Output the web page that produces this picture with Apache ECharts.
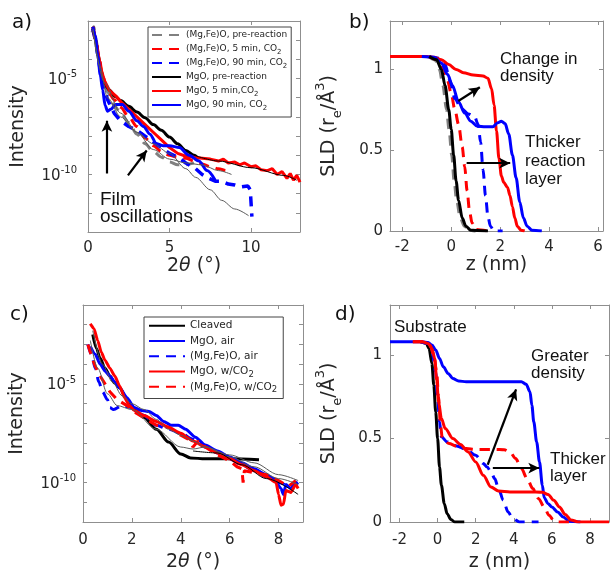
<!DOCTYPE html>
<html>
<head>
<meta charset="utf-8">
<script src="https://cdn.jsdelivr.net/npm/echarts@6/dist/echarts.min.js"></script>
<style>
html, body { margin: 0; padding: 0; background: #fff; }
#chart { width: 611px; height: 573px; }
</style>
</head>
<body>
<div id="chart"></div>
<script>
// ---------- a) reflectivity, [2θ (deg), log10(intensity)] ----------
const aMgFeOPre = [[0.25,-2.6],[0.35,-2.3],[0.5,-3.0],[0.7,-4.1],[0.9,-4.9],[1.2,-5.7],[1.6,-6.4],[2.0,-6.8],[2.5,-7.3],[3.0,-7.9],[3.5,-8.4],[4.0,-8.8],[4.5,-9.1],[5.0,-9.35],[5.5,-9.5],[6.0,-9.5],[6.5,-9.4]];
const aMgFeO5 = [[0.3,-2.4],[0.5,-3.1],[0.7,-4.0],[0.9,-4.9],[1.2,-5.6],[1.6,-6.1],[2.0,-6.5],[2.5,-7.0],[3.0,-7.5],[3.5,-8.1],[4.0,-8.5],[4.5,-8.8],[5.0,-9.0],[5.5,-9.1],[6.0,-9.15],[6.5,-9.3],[7.0,-9.45],[7.5,-9.6],[8.0,-9.7],[8.5,-9.8],[8.8,-9.9]];
const aMgFeO90 = [[0.3,-2.4],[0.5,-3.2],[0.7,-4.3],[0.9,-5.3],[1.2,-6.1],[1.6,-6.8],[2.0,-7.2],[2.5,-7.5],[3.0,-7.7],[3.5,-8.0],[4.0,-8.3],[4.5,-8.6],[5.0,-8.9],[5.5,-9.1],[6.0,-9.4],[6.6,-9.7],[7.0,-10.0],[7.4,-10.2],[7.8,-10.35],[8.2,-10.35],[8.6,-10.5],[9.0,-10.55],[9.4,-10.65],[9.8,-10.6],[9.95,-10.8],[10.0,-11.5],[10.05,-12.2]];
const aMgOPre = [[0.3,-2.3],[0.45,-2.9],[0.6,-3.7],[0.8,-4.6],[1.0,-5.2],[1.3,-5.6],[1.7,-5.95],[2.0,-6.15],[2.5,-6.45],[3.0,-6.75],[3.5,-7.05],[4.0,-7.4],[4.5,-7.7],[5.0,-8.05],[5.5,-8.4],[6.0,-8.75],[6.5,-9.0],[6.8,-9.2]];
const aMgO5 = [[0.3,-2.3],[0.45,-2.9],[0.6,-3.6],[0.8,-4.5],[1.0,-5.1],[1.3,-5.6],[1.7,-5.9],[2.0,-6.2],[2.5,-6.6],[3.0,-7.0],[3.5,-7.4],[4.0,-7.8],[4.5,-8.2],[5.0,-8.6],[5.5,-8.9],[6.0,-9.05],[6.5,-9.1],[7.0,-9.15],[7.5,-9.2],[8.0,-9.3],[8.3,-9.2],[8.6,-9.4],[9.0,-9.35],[9.3,-9.5],[9.6,-9.4],[10.0,-9.6],[10.3,-9.55],[10.6,-9.75],[11.0,-9.8],[11.3,-9.7],[11.6,-10.0],[11.9,-9.85],[12.2,-10.2],[12.4,-9.95],[12.6,-10.3],[12.8,-10.05],[13.0,-10.4]];
const aMgO90 = [[0.3,-2.3],[0.45,-2.8],[0.6,-3.8],[0.75,-4.8],[0.9,-5.6],[1.05,-6.4],[1.2,-6.7],[1.4,-6.6],[1.7,-6.35],[2.1,-6.35],[2.5,-6.7],[3.0,-7.2],[3.4,-7.5],[3.8,-7.9],[4.2,-8.4],[4.6,-8.5],[5.0,-8.5],[5.6,-8.6],[6.2,-9.0],[6.8,-9.3],[7.3,-9.8],[7.8,-10.3]];
// model fits (thin lines)
const aFitMgFeO90 = [[0.3,-2.4],[0.7,-4.3],[1.2,-6.0],[2.0,-7.0],[3.0,-7.8],[4.0,-8.4],[5.0,-8.9],[6.0,-9.7],[6.6,-10.15],[7.5,-10.8],[8.2,-11.35],[9.0,-11.8],[9.85,-12.15]];
const aFitMgO5 = [[6.5,-9.0],[8.0,-9.3],[10.0,-9.65],[12.0,-10.05],[12.8,-10.3]];
const aFitMgFeOPre = [[0.3,-2.5],[1.0,-5.2],[2.0,-6.8],[3.0,-7.8],[4.0,-8.7],[5.0,-9.2],[6.0,-9.4],[7.0,-9.5],[8.0,-9.8],[8.8,-10.0]];
const aArrows = [[[1.16,-9.95],[1.16,-7.2]], [[2.45,-10.05],[3.6,-8.75]]];

// ---------- b) SLD profiles, [z (nm), SLD] ----------
const bMgFeOPre = [[-0.9,1.08],[-0.65,1.06],[-0.47,1.0],[-0.33,0.9],[-0.18,0.75],[-0.08,0.63],[0.03,0.47],[0.13,0.31],[0.23,0.19],[0.38,0.08],[0.55,0.03],[0.75,0.005],[1.0,0.0]];
const bMgFeO5 = [[-0.9,1.08],[-0.5,1.06],[-0.3,1.0],[-0.15,0.93],[0.0,0.85],[0.15,0.75],[0.3,0.66],[0.45,0.52],[0.55,0.4],[0.65,0.25],[0.75,0.12],[0.85,0.05],[1.0,0.01],[1.5,0.0]];
const bMgFeO90 = [[-0.9,1.08],[-0.5,1.07],[-0.25,1.03],[-0.05,0.93],[0.15,0.82],[0.4,0.76],[0.7,0.725],[0.95,0.71],[1.1,0.66],[1.2,0.55],[1.3,0.38],[1.4,0.22],[1.5,0.09],[1.6,0.03],[1.75,0.0],[2.1,0.0]];
const bMgOPre = [[-0.9,1.08],[-0.6,1.06],[-0.4,1.0],[-0.25,0.9],[-0.1,0.75],[0.0,0.63],[0.1,0.47],[0.2,0.31],[0.3,0.19],[0.45,0.08],[0.6,0.03],[0.8,0.005],[1.5,0.0]];
const bMgO5 = [[-2.5,1.08],[-1.0,1.08],[-0.7,1.075],[-0.4,1.06],[-0.1,1.03],[0.2,1.0],[0.5,0.98],[0.9,0.965],[1.3,0.96],[1.5,0.945],[1.65,0.88],[1.75,0.78],[1.85,0.62],[1.95,0.45],[2.05,0.34],[2.15,0.3],[2.3,0.27],[2.4,0.22],[2.5,0.15],[2.6,0.08],[2.7,0.03],[2.85,0.005],[3.0,0.0]];
const bMgO90 = [[-1.2,1.08],[-0.7,1.075],[-0.4,1.04],[-0.15,0.97],[0.05,0.9],[0.3,0.8],[0.55,0.73],[0.8,0.68],[1.05,0.65],[1.4,0.645],[1.7,0.645],[1.9,0.67],[2.05,0.68],[2.2,0.665],[2.35,0.6],[2.5,0.47],[2.65,0.33],[2.8,0.18],[2.95,0.08],[3.1,0.03],[3.3,0.005],[3.7,0.0]];
const bArrows = [[[0.29,0.805],[1.17,0.89]], [[0.63,0.42],[2.41,0.42]]];

// ---------- c) reflectivity, [2θ (deg), log10(intensity)] ----------
const cCleaved = [[0.4,-2.5],[0.55,-3.2],[0.7,-3.7],[0.9,-4.2],[1.1,-4.6],[1.3,-4.95],[1.5,-5.2],[1.8,-5.8],[2.1,-6.3],[2.5,-6.7],[3.0,-7.3],[3.5,-7.95],[4.0,-8.55],[4.4,-8.75],[5.0,-8.8],[6.0,-8.8],[7.2,-8.85]];
const cMgOAir = [[0.3,-3.1],[0.5,-3.5],[0.7,-4.0],[0.9,-4.35],[1.1,-4.6],[1.3,-4.9],[1.5,-5.2],[1.8,-5.7],[2.1,-6.2],[2.4,-6.35],[2.7,-6.4],[3.0,-6.6],[3.3,-6.9],[3.6,-7.1],[3.9,-7.1],[4.2,-7.3],[4.6,-7.7],[5.0,-8.1],[5.5,-8.4],[6.0,-8.7],[6.5,-9.0],[7.0,-9.3],[7.5,-9.6],[7.8,-9.8],[8.1,-10.3],[8.2,-10.6],[8.3,-10.1],[8.5,-10.3],[8.7,-9.9]];
const cMgFeOAir = [[0.2,-3.0],[0.35,-3.5],[0.5,-4.2],[0.65,-4.9],[0.8,-5.4],[1.0,-5.8],[1.1,-6.2],[1.25,-6.3],[1.6,-6.1],[2.0,-6.2],[2.5,-6.6],[3.0,-7.1],[3.5,-7.3],[4.0,-7.5],[4.5,-7.8],[5.0,-8.2],[5.5,-8.5],[6.0,-8.8],[6.5,-9.1],[7.0,-9.4],[7.5,-9.7],[8.0,-10.0],[8.5,-10.2],[8.8,-10.0]];
const cMgOCO2 = [[0.3,-1.95],[0.45,-2.2],[0.6,-2.8],[0.75,-3.4],[0.9,-3.8],[1.1,-4.2],[1.3,-4.6],[1.5,-5.1],[1.7,-5.7],[1.9,-6.1],[2.1,-6.35],[2.5,-6.6],[3.0,-6.9],[3.5,-7.2],[4.0,-7.5],[4.5,-7.9],[5.0,-8.2],[5.5,-8.5],[6.0,-8.8],[6.5,-9.1],[7.0,-9.4],[7.5,-9.7],[7.9,-10.0],[8.0,-10.6],[8.1,-11.15],[8.2,-11.1],[8.3,-10.4],[8.5,-10.5],[8.7,-10.1],[8.8,-10.3]];
const cMgFeOCO2 = [[0.2,-3.0],[0.35,-3.6],[0.5,-4.1],[0.7,-4.6],[0.9,-5.0],[1.1,-5.4],[1.4,-5.8],[1.8,-6.1],[2.2,-6.5],[2.6,-6.8],[3.0,-7.1],[3.5,-7.2],[4.0,-7.6],[4.3,-7.8],[4.5,-8.2],[4.7,-7.9],[5.0,-8.2],[5.5,-8.6],[6.0,-8.9],[6.3,-9.2],[6.5,-9.3],[6.55,-10.0],[6.6,-9.4],[7.0,-9.5],[7.5,-9.6],[8.0,-9.9],[8.4,-10.2],[8.7,-9.9]];
const cFitA = [[0.4,-2.3],[0.8,-4.0],[1.2,-4.9],[1.6,-5.6],[2.0,-6.0],[2.5,-6.3],[3.0,-6.8],[3.5,-7.3],[4.0,-7.6],[4.5,-7.9],[5.0,-8.2],[6.0,-8.7],[7.0,-9.2],[8.0,-9.8],[8.8,-10.1]];
const cFitB = [[4.5,-8.4],[5.5,-8.5],[6.5,-9.1],[7.5,-9.8],[8.8,-10.6]];
const cFitC = [[0.3,-2.8],[0.6,-4.2],[1.0,-5.5],[1.4,-6.1],[2.0,-6.3],[3.0,-7.3],[4.0,-8.2],[4.5,-8.3],[5.0,-8.2],[6.0,-8.6],[7.0,-9.0],[8.0,-9.6],[8.8,-9.9]];

// ---------- d) SLD profiles, [z (nm), SLD] ----------
const dCleaved = [[-0.9,1.08],[-0.6,1.07],[-0.45,1.04],[-0.3,0.95],[-0.2,0.82],[-0.1,0.66],[0.0,0.5],[0.1,0.33],[0.2,0.22],[0.35,0.11],[0.5,0.05],[0.7,0.015],[0.9,0.0],[1.4,0.0]];
const dMgOAir = [[-2.5,1.08],[-0.8,1.08],[-0.5,1.075],[-0.3,1.06],[-0.1,1.03],[0.1,0.98],[0.3,0.93],[0.55,0.89],[0.8,0.86],[1.1,0.845],[1.5,0.84],[2.5,0.84],[3.5,0.84],[4.4,0.84],[4.65,0.825],[4.85,0.78],[4.95,0.7],[5.05,0.6],[5.2,0.48],[5.35,0.36],[5.5,0.22],[5.6,0.145],[5.8,0.11],[6.0,0.09],[6.3,0.06],[6.6,0.03],[6.9,0.005],[7.5,0.0]];
const dMgFeOAir = [[-0.9,1.08],[-0.5,1.07],[-0.3,1.03],[-0.1,0.9],[0.0,0.75],[0.1,0.6],[0.2,0.51],[0.5,0.48],[1.0,0.455],[1.5,0.435],[2.0,0.4],[2.4,0.35],[2.6,0.33],[2.8,0.3],[3.0,0.26],[3.2,0.2],[3.45,0.13],[3.7,0.06],[3.95,0.02],[4.3,0.0],[5.3,0.0]];
const dMgOCO2 = [[-1.3,1.08],[-0.8,1.08],[-0.5,1.07],[-0.3,1.04],[-0.15,0.98],[-0.05,0.85],[0.05,0.72],[0.2,0.62],[0.4,0.56],[0.8,0.5],[1.2,0.465],[1.6,0.42],[2.0,0.36],[2.4,0.28],[2.8,0.21],[3.2,0.185],[3.8,0.18],[4.8,0.18],[5.5,0.178],[5.8,0.165],[6.1,0.13],[6.4,0.09],[6.7,0.045],[7.0,0.012],[7.4,0.0],[9.0,0.0]];
const dMgFeOCO2 = [[-1.3,1.08],[-0.7,1.08],[-0.4,1.06],[-0.2,1.0],[-0.05,0.9],[0.05,0.75],[0.15,0.58],[0.25,0.5],[0.6,0.47],[1.0,0.455],[1.5,0.44],[2.0,0.435],[3.0,0.435],[3.5,0.433],[3.8,0.42],[4.1,0.38],[4.4,0.32],[4.7,0.26],[5.0,0.2],[5.3,0.14],[5.6,0.09],[5.85,0.04],[6.1,0.01],[6.3,0.0],[7.0,0.0]];
const dArrows = [[[2.63,0.343],[4.12,0.795]], [[2.9,0.323],[5.34,0.323]]];

// ---------- tick labels ----------
const aXTicks = [0, 5, 10];
const bXTicks = [-2, 0, 2, 4, 6];
const cXTicks = [0, 2, 4, 6, 8];
const dXTicks = [-2, 0, 2, 4, 6, 8];
const sldTicks = [0, 0.5, 1];
const logLabelExps = [-5, -10];

// ---------- styling ----------
const FRAME = '#8f8f8f';
const INK = '#262626';
const AXFONT = 'DejaVu Sans';
const ANFONT = 'Liberation Sans';
const RED = '#ff0000', BLUE = '#0000ff', BLACK = '#000000', GRAY = '#808080';
const DASH = [10, 7];

const pow10 = pts => pts.map(p => [p[0], Math.pow(10, p[1])]);

const grids = [
  { left: 88, top: 21, width: 212, height: 211 },
  { left: 390, top: 21, width: 213, height: 210 },
  { left: 83, top: 305, width: 220, height: 217 },
  { left: 390, top: 305, width: 219, height: 217 }
];

const tickStyle = { show: true, inside: true, length: 4, lineStyle: { color: FRAME, width: 1 } };
const lineAx = { show: true, onZero: false, lineStyle: { color: FRAME, width: 1 } };
const titleRich = {
  t: { fontFamily: AXFONT, fontSize: 19, color: INK },
  i: { fontFamily: AXFONT, fontSize: 19, color: INK, fontStyle: 'italic' },
  sb: { fontFamily: AXFONT, fontSize: 13, color: INK, verticalAlign: 'bottom', lineHeight: 30 },
  sp: { fontFamily: AXFONT, fontSize: 13, color: INK, verticalAlign: 'top', lineHeight: 30 }
};
const thetaTitle = '{t|2}{i|θ}{t| (°)}';
const zTitle = '{t|z (nm)}';
const sldTitle = '{t|SLD (r}{sb|e}{t|/Å}{sp|3}{t|)}';

function valueX(gi, min, max, ticks, margin, name, gap) {
  return [{
    gridIndex: gi, type: 'value', position: 'bottom', min, max,
    axisLine: lineAx, splitLine: { show: false },
    axisTick: Object.assign({ customValues: ticks }, tickStyle),
    axisLabel: { customValues: ticks, color: INK, fontFamily: AXFONT, fontSize: 15, margin },
    name, nameLocation: 'middle', nameGap: gap, nameTextStyle: { rich: titleRich }
  }, {
    gridIndex: gi, type: 'value', position: 'top', min, max,
    axisLine: lineAx, splitLine: { show: false },
    axisTick: Object.assign({ customValues: ticks }, tickStyle),
    axisLabel: { show: false }
  }];
}

function sldY(gi, margin, gap) {
  return [{
    gridIndex: gi, type: 'value', position: 'left', min: 0, max: 1.3,
    axisLine: lineAx, splitLine: { show: false },
    axisTick: Object.assign({ customValues: sldTicks }, tickStyle),
    axisLabel: { customValues: sldTicks, color: INK, fontFamily: AXFONT, fontSize: 15, margin },
    name: sldTitle, nameLocation: 'middle', nameGap: gap, nameTextStyle: { rich: titleRich }
  }, {
    gridIndex: gi, type: 'value', position: 'right', min: 0, max: 1.3,
    axisLine: lineAx, splitLine: { show: false },
    axisTick: Object.assign({ customValues: sldTicks }, tickStyle),
    axisLabel: { show: false }
  }];
}

function logY(gi, minExp, maxExp, margin, gap) {
  const base = {
    gridIndex: gi, type: 'log', logBase: 10,
    min: Math.pow(10, minExp), max: Math.pow(10, maxExp), interval: 1,
    axisLine: lineAx, splitLine: { show: false }, axisTick: tickStyle
  };
  return [Object.assign({}, base, {
    position: 'left',
    axisLabel: {
      margin,
      formatter: v => {
        const e = Math.round(Math.log10(v));
        return logLabelExps.indexOf(e) >= 0 ? '{b|10}{e|' + e + '}' : '';
      },
      rich: {
        b: { fontFamily: AXFONT, fontSize: 15, color: INK, lineHeight: 18, verticalAlign: 'bottom' },
        e: { fontFamily: AXFONT, fontSize: 10, color: INK, lineHeight: 18, verticalAlign: 'top' }
      }
    },
    name: '{t|Intensity}', nameLocation: 'middle', nameGap: gap, nameTextStyle: { rich: titleRich }
  }), Object.assign({}, base, { position: 'right', axisLabel: { show: false } })];
}

const xb = valueX(0, 0, 13, aXTicks, 9, thetaTitle, 22);
const xbB = valueX(1, -2.5, 6.2, bXTicks, 9, zTitle, 25);
const xc = valueX(2, 0, 9, cXTicks, 11, thetaTitle, 31);
const xd = valueX(3, -2.5, 9, dXTicks, 11, zTitle, 31);
const ya = logY(0, -13, -2, 11, 60);
const yb = sldY(1, 7, 46);
const yc = logY(2, -12, -1, 7, 56);
const yd = sldY(3, 8, 46);

const xAxes = [xb[0], xbB[0], xc[0], xd[0], xb[1], xbB[1], xc[1], xd[1]];
const yAxes = [ya[0], yb[0], yc[0], yd[0], ya[1], yb[1], yc[1], yd[1]];

function curve(name, gi, data, color, dashed, width, z, smooth) {
  return {
    name, type: 'line', xAxisIndex: gi, yAxisIndex: gi, data,
    symbol: 'none', smooth: smooth === undefined ? 0.3 : smooth, smoothMonotone: 'x',
    lineStyle: { color, width, type: dashed ? DASH : 'solid' },
    itemStyle: { color, opacity: 0 }, silent: true, z: z || 2
  };
}

function arrows(gi, list, isLog) {
  const conv = p => [p[0], isLog ? Math.pow(10, p[1]) : p[1]];
  return {
    type: 'line', xAxisIndex: gi, yAxisIndex: gi, data: [], silent: true, z: 10,
    markLine: {
      silent: true, animation: false, symbol: ['none', 'arrow'], symbolSize: [8, 11],
      lineStyle: { color: '#000', width: 2.2, type: 'solid' }, label: { show: false },
      data: list.map(a => [{ coord: conv(a[0]) }, { coord: conv(a[1]) }])
    }
  };
}

const FIT = '#5a5a5a';
const series = [
  // a)
  curve('(Mg,Fe)O, pre-reaction', 0, pow10(aMgFeOPre), GRAY, true, 3),
  curve('(Mg,Fe)O, 5 min, CO2', 0, pow10(aMgFeO5), RED, true, 3),
  curve('(Mg,Fe)O, 90 min, CO2', 0, pow10(aMgFeO90), BLUE, true, 3.5, 2, 0),
  curve('MgO, pre-reaction', 0, pow10(aMgOPre), BLACK, false, 3),
  curve('MgO, 5 min,CO2', 0, pow10(aMgO5), RED, false, 3, 2, 0),
  curve('MgO, 90 min, CO2', 0, pow10(aMgO90), BLUE, false, 3),
  curve('fit a1', 0, pow10(aFitMgFeO90), FIT, false, 1, 5),
  curve('fit a2', 0, pow10(aFitMgO5), '#000', false, 1, 5),
  curve('fit a3', 0, pow10(aFitMgFeOPre), FIT, false, 1, 5),
  arrows(0, aArrows, true),
  // b)
  curve('b (Mg,Fe)O pre', 1, bMgFeOPre, GRAY, true, 3.5),
  curve('b MgO pre', 1, bMgOPre, BLACK, false, 3, 3),
  curve('b (Mg,Fe)O 5', 1, bMgFeO5, RED, true, 3),
  curve('b (Mg,Fe)O 90', 1, bMgFeO90, BLUE, true, 3),
  curve('b MgO 5', 1, bMgO5, RED, false, 3),
  curve('b MgO 90', 1, bMgO90, BLUE, false, 3),
  arrows(1, bArrows, false),
  // c)
  curve('Cleaved', 2, pow10(cCleaved), BLACK, false, 3),
  curve('MgO, air', 2, pow10(cMgOAir), BLUE, false, 3, 2, 0.2),
  curve('(Mg,Fe)O, air', 2, pow10(cMgFeOAir), BLUE, true, 3),
  curve('MgO, w/CO2', 2, pow10(cMgOCO2), RED, false, 3, 3, 0.2),
  curve('(Mg,Fe)O, w/CO2', 2, pow10(cMgFeOCO2), RED, true, 3, 3, 0),
  curve('fit c1', 2, pow10(cFitA), FIT, false, 1, 5),
  curve('fit c2', 2, pow10(cFitB), '#000', false, 1, 5),
  curve('fit c3', 2, pow10(cFitC), FIT, false, 1, 5),
  // d)
  curve('d cleaved', 3, dCleaved, BLACK, false, 3),
  curve('d MgO air', 3, dMgOAir, BLUE, false, 3),
  curve('d (Mg,Fe)O air', 3, dMgFeOAir, BLUE, true, 3),
  curve('d (Mg,Fe)O CO2', 3, dMgFeOCO2, RED, true, 3),
  curve('d MgO CO2', 3, dMgOCO2, RED, false, 3),
  arrows(3, dArrows, false)
];

const legendRich = (fs, lh) => ({
  t: { fontFamily: AXFONT, fontSize: fs, color: INK, lineHeight: lh, verticalAlign: 'middle' },
  s: { fontFamily: AXFONT, fontSize: fs - 2, color: INK, lineHeight: lh, verticalAlign: 'bottom' }
});
const legendFmt = name => {
  const i = name.indexOf('CO2');
  return i < 0 ? '{t|' + name + '}' : '{t|' + name.slice(0, i) + 'CO}{s|2}';
};

const legends = [{
  data: ['(Mg,Fe)O, pre-reaction', '(Mg,Fe)O, 5 min, CO2', '(Mg,Fe)O, 90 min, CO2', 'MgO, pre-reaction', 'MgO, 5 min,CO2', 'MgO, 90 min, CO2'],
  orient: 'vertical', left: 148, top: 27, itemWidth: 29, itemHeight: 14.2, itemGap: 0,
  padding: [1, 4, 5, 3], borderColor: '#444', borderWidth: 1, backgroundColor: '#fff',
  itemStyle: { opacity: 0 },
  selectedMode: false, formatter: legendFmt, textStyle: { lineHeight: 14, rich: legendRich(9, 14) }
}, {
  data: ['Cleaved', 'MgO, air', '(Mg,Fe)O, air', 'MgO, w/CO2', '(Mg,Fe)O, w/CO2'],
  orient: 'vertical', left: 144, top: 317, itemWidth: 36, itemHeight: 15.3, itemGap: 0,
  padding: [1, 6, 4, 4], borderColor: '#444', borderWidth: 1, backgroundColor: '#fff',
  itemStyle: { opacity: 0 },
  selectedMode: false, formatter: legendFmt, textStyle: { lineHeight: 15, rich: legendRich(10.5, 15.3) }
}];

function note(x, y, text, size, family) {
  return { type: 'text', x, y, silent: true, z: 20,
    style: { text, fill: '#111', fontSize: size || 17, fontFamily: family || ANFONT, align: 'left', verticalAlign: 'middle' } };
}

const graphics = [
  note(12, 23, 'a)', 20, AXFONT), note(349, 23, 'b)', 20, AXFONT),
  note(10, 315, 'c)', 20, AXFONT), note(335, 315, 'd)', 20, AXFONT),
  note(100, 200, 'Film', 19), note(100, 217, 'oscillations', 19),
  note(500, 59, 'Change in'), note(500, 76, 'density'),
  note(525, 142, 'Thicker'), note(525, 161, 'reaction'), note(525, 179, 'layer'),
  note(394, 327, 'Substrate'),
  note(531, 356, 'Greater'), note(531, 373, 'density'),
  note(550, 459, 'Thicker'), note(550, 476, 'layer')
];

const chart = echarts.init(document.getElementById('chart'), null, { renderer: 'canvas' });
chart.setOption({
  animation: false,
  backgroundColor: '#fff',
  grid: grids,
  xAxis: xAxes,
  yAxis: yAxes,
  legend: legends,
  series,
  graphic: graphics
});
</script>
</body>
</html>
